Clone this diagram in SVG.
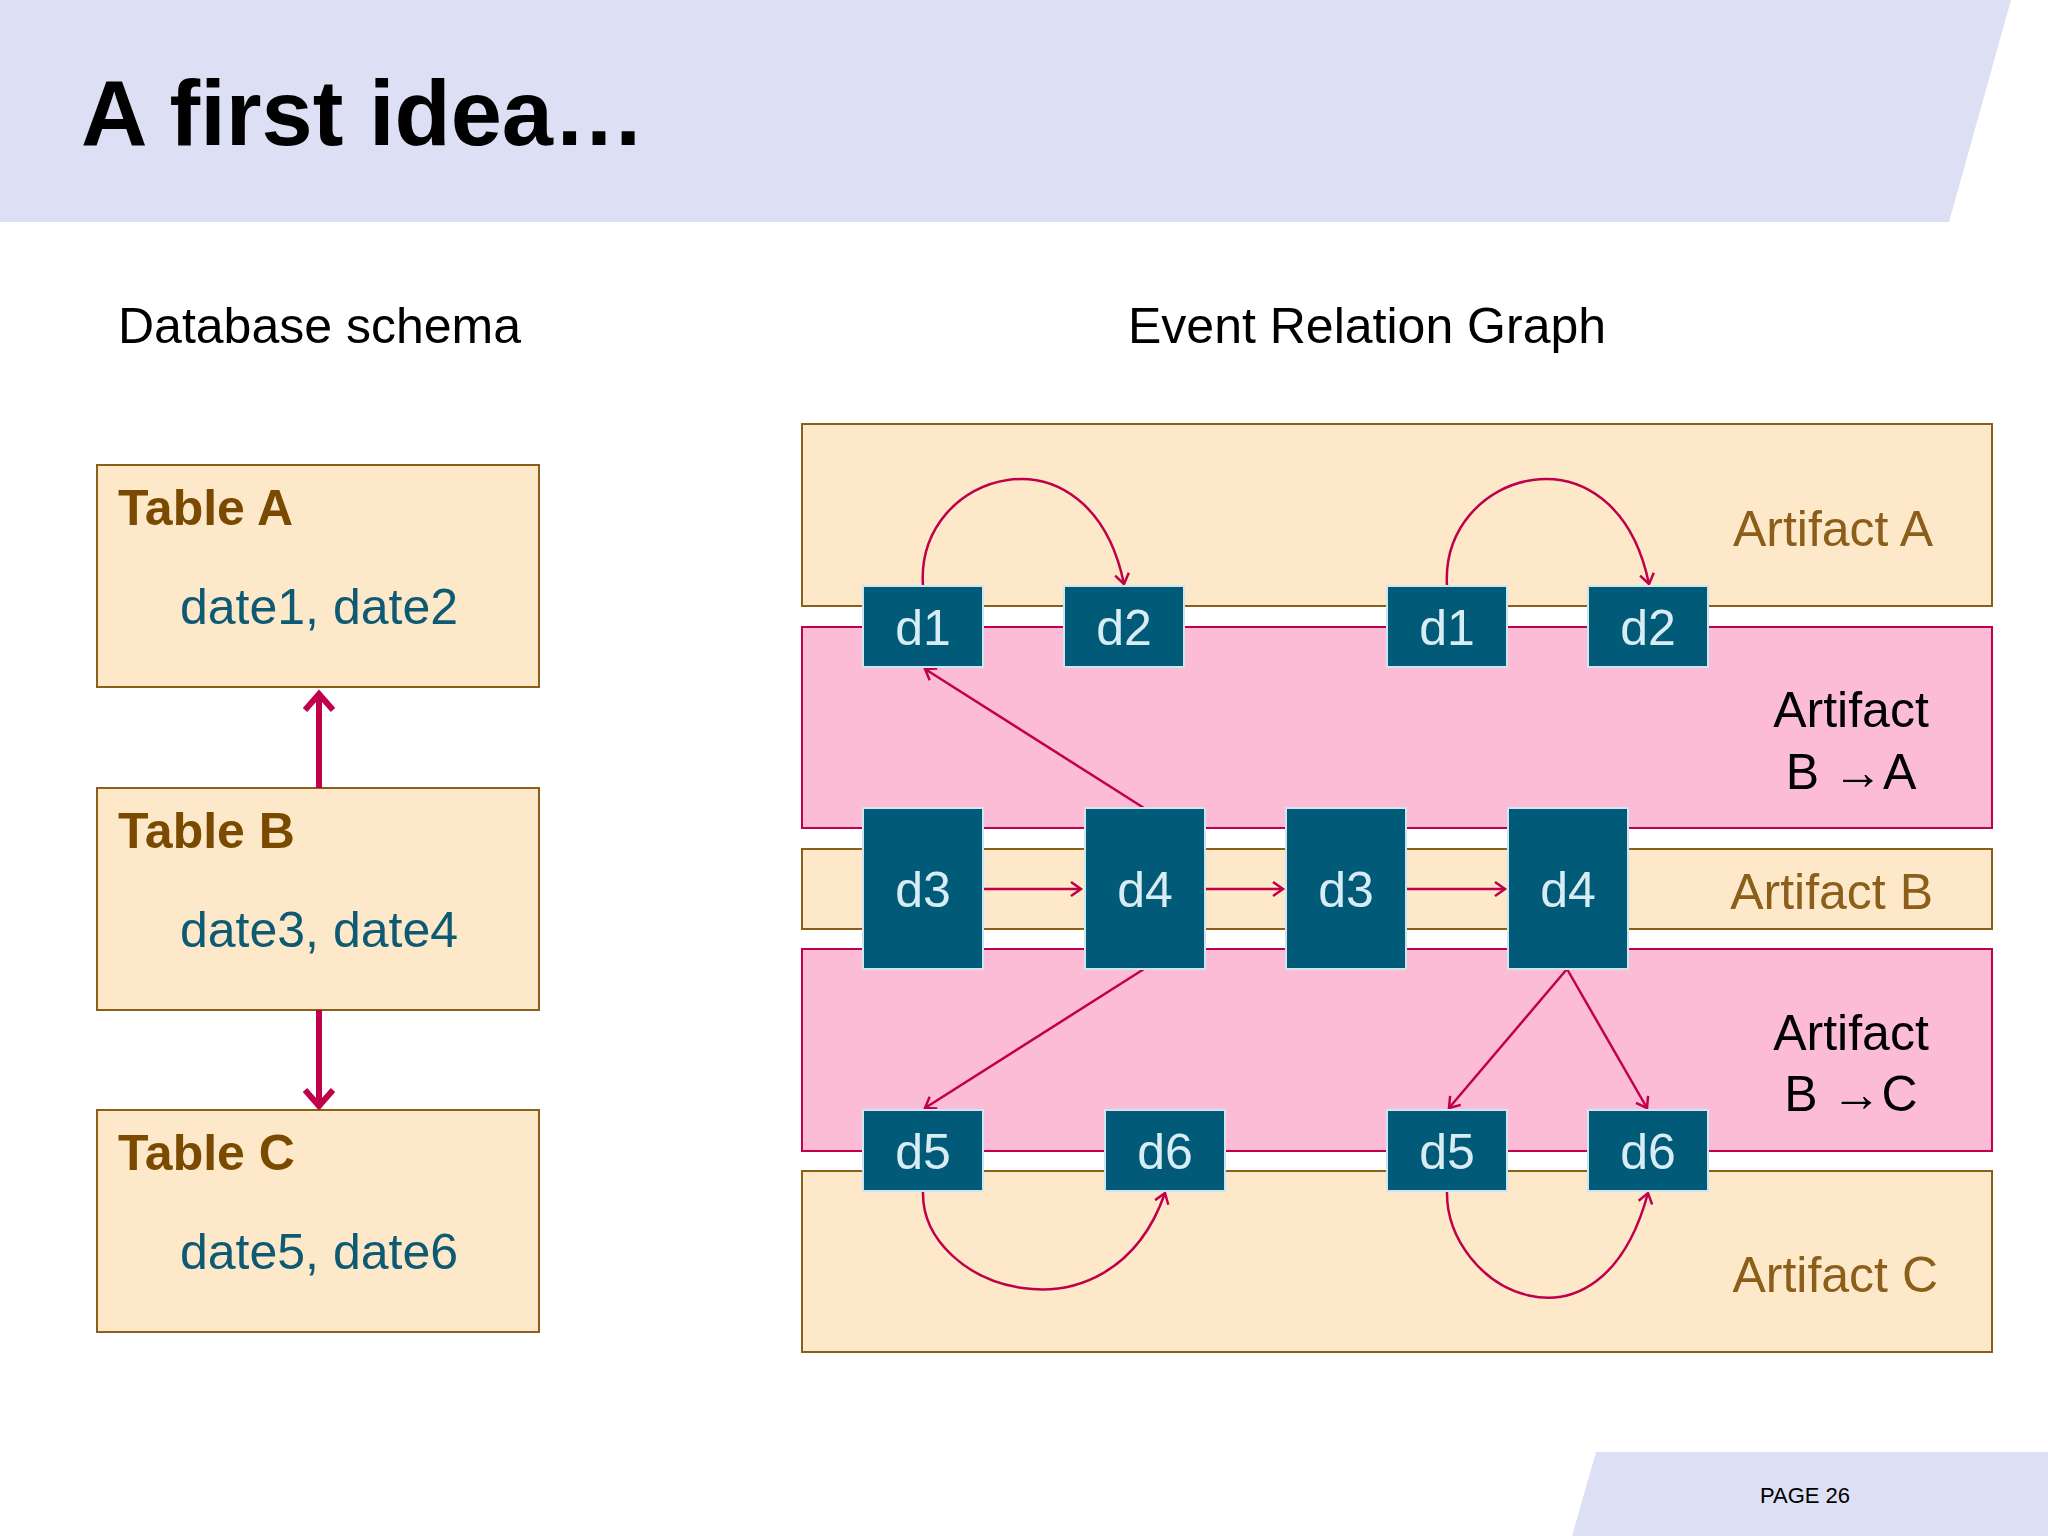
<svg xmlns="http://www.w3.org/2000/svg" width="2048" height="1536" viewBox="0 0 2048 1536">
<style>
.tb{fill:#fde9c9;stroke:#8b5e1a;stroke-width:2}
.pk{fill:#fdbcd6;stroke:#c0004a;stroke-width:2}
.nd{fill:#005a78;stroke:#cfe6ee;stroke-width:2}
.nt{font-family:"Liberation Sans",Arial,sans-serif;font-size:50px;fill:#d8ecf4;text-anchor:middle}
.tt{font-family:"Liberation Sans",Arial,sans-serif;font-size:50px;font-weight:bold;fill:#7a4a00}
.dt{font-family:"Liberation Sans",Arial,sans-serif;font-size:50px;fill:#0e5a73;text-anchor:middle}
.al{font-family:"Liberation Sans",Arial,sans-serif;font-size:50px;fill:#8b5e1a;text-anchor:end}
.ab{font-family:"Liberation Sans",Arial,sans-serif;font-size:50px;fill:#000;text-anchor:middle}
.hd{font-family:"Liberation Sans",Arial,sans-serif;font-size:50px;fill:#000}
.c{fill:none;stroke:#c0004a;stroke-width:2.5;marker-end:url(#a)}
.b{fill:none;stroke:#c0004a;stroke-width:6;marker-end:url(#ab)}
</style>
<defs>
<marker id="a" markerWidth="20" markerHeight="20" refX="12" refY="8" orient="auto" markerUnits="userSpaceOnUse"><path d="M2,1 L12,8 L2,15" fill="none" stroke="#c0004a" stroke-width="2.5"/></marker>
<marker id="ab" markerWidth="40" markerHeight="40" refX="20" refY="16" orient="auto" markerUnits="userSpaceOnUse"><path d="M4,2 L20,16 L4,30" fill="none" stroke="#c0004a" stroke-width="6"/></marker>
</defs>
<rect width="2048" height="1536" fill="#fff"/>
<polygon points="0,0 2011,0 1949,222 0,222" fill="#dde0f4"/>
<text x="81" y="145" font-family="Liberation Sans,Arial,sans-serif" font-size="92" font-weight="bold">A first idea…</text>
<text class="hd" x="118" y="343">Database schema</text>
<text class="hd" x="1128" y="343">Event Relation Graph</text>
<polygon points="1596,1452 2048,1452 2048,1536 1572,1536" fill="#dde0f4"/>
<text x="1760" y="1503" font-family="Liberation Sans,Arial,sans-serif" font-size="22">PAGE 26</text>

<g id="tableA"><rect class="tb" x="97" y="465" width="442" height="222"/><text class="tt" x="118" y="525">Table A</text><text class="dt" x="319" y="624">date1, date2</text></g>
<g id="tableB"><rect class="tb" x="97" y="788" width="442" height="222"/><text class="tt" x="118" y="848">Table B</text><text class="dt" x="319" y="947">date3, date4</text></g>
<g id="tableC"><rect class="tb" x="97" y="1110" width="442" height="222"/><text class="tt" x="118" y="1170">Table C</text><text class="dt" x="319" y="1269">date5, date6</text></g>

<g id="bands">
<rect class="tb" x="802" y="424" width="1190" height="182"/>
<rect class="pk" x="802" y="627" width="1190" height="201"/>
<rect class="tb" x="802" y="849" width="1190" height="80"/>
<rect class="pk" x="802" y="949" width="1190" height="202"/>
<rect class="tb" x="802" y="1171" width="1190" height="181"/>
<text class="al" x="1933" y="546">Artifact A</text>
<text class="ab" x="1851" y="727">Artifact</text><text class="ab" x="1851" y="789">B →A</text>
<text class="al" x="1933" y="909">Artifact B</text>
<text class="ab" x="1851" y="1050">Artifact</text><text class="ab" x="1851" y="1111">B →C</text>
<text class="al" x="1938" y="1292">Artifact C</text>
</g>

<g id="connectors">
<path class="b" d="M319,788 L319,694"/>
<path class="b" d="M319,1010 L319,1106"/>
<path class="c" d="M923,586 C915,470 1090,420 1124,584"/>
<path class="c" d="M1447,586 C1440,470 1615,420 1649,584"/>
<path class="c" d="M923,1191 C920,1290 1110,1350 1165,1193"/>
<path class="c" d="M1447,1191 C1445,1290 1600,1370 1648,1193"/>
<path class="c" d="M1144,808 L925,669"/>
<path class="c" d="M983,889 L1081,889"/>
<path class="c" d="M1204,889 L1283,889"/>
<path class="c" d="M1406,889 L1505,889"/>
<path class="c" d="M1144,969 L925,1108"/>
<path class="c" d="M1567,969 L1449,1108"/>
<path class="c" d="M1567,969 L1647,1108"/>
</g>

<g id="d1a"><rect class="nd" x="863" y="586" width="120" height="81"/><text class="nt" x="923" y="645">d1</text></g>
<g id="d2a"><rect class="nd" x="1064" y="586" width="120" height="81"/><text class="nt" x="1124" y="645">d2</text></g>
<g id="d1b"><rect class="nd" x="1387" y="586" width="120" height="81"/><text class="nt" x="1447" y="645">d1</text></g>
<g id="d2b"><rect class="nd" x="1588" y="586" width="120" height="81"/><text class="nt" x="1648" y="645">d2</text></g>
<g id="d3a"><rect class="nd" x="863" y="808" width="120" height="161"/><text class="nt" x="923" y="907">d3</text></g>
<g id="d4a"><rect class="nd" x="1085" y="808" width="120" height="161"/><text class="nt" x="1145" y="907">d4</text></g>
<g id="d3b"><rect class="nd" x="1286" y="808" width="120" height="161"/><text class="nt" x="1346" y="907">d3</text></g>
<g id="d4b"><rect class="nd" x="1508" y="808" width="120" height="161"/><text class="nt" x="1568" y="907">d4</text></g>
<g id="d5a"><rect class="nd" x="863" y="1110" width="120" height="81"/><text class="nt" x="923" y="1169">d5</text></g>
<g id="d6a"><rect class="nd" x="1105" y="1110" width="120" height="81"/><text class="nt" x="1165" y="1169">d6</text></g>
<g id="d5b"><rect class="nd" x="1387" y="1110" width="120" height="81"/><text class="nt" x="1447" y="1169">d5</text></g>
<g id="d6b"><rect class="nd" x="1588" y="1110" width="120" height="81"/><text class="nt" x="1648" y="1169">d6</text></g>
</svg>
